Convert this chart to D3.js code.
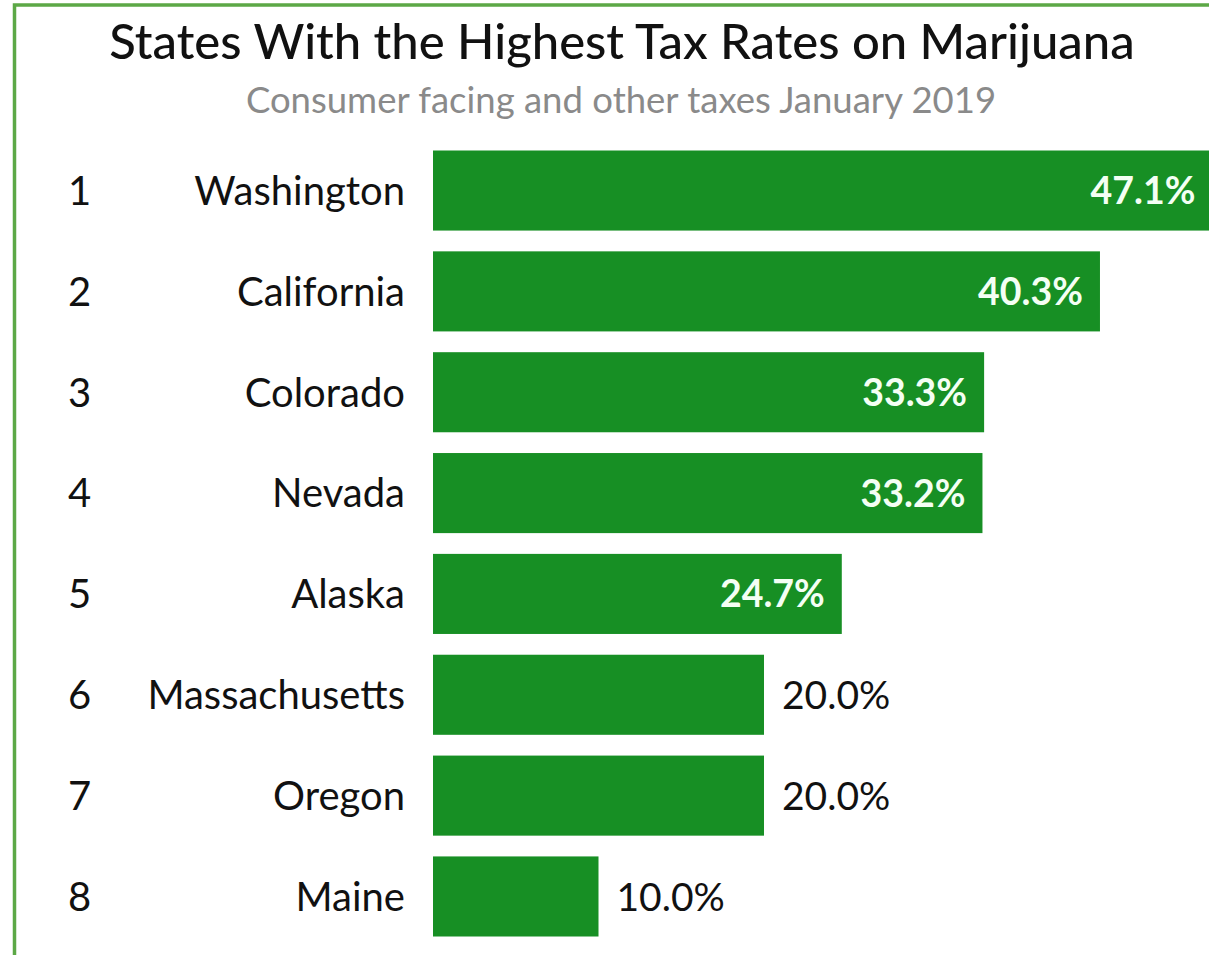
<!DOCTYPE html>
<html>
<head>
<meta charset="utf-8">
<script src="https://cdn.jsdelivr.net/npm/d3@7"></script>
<style>
  html, body { margin: 0; padding: 0; background: #fff; overflow: hidden; }
  svg { display: block; font-family: Lato, "Open Sans", sans-serif; }
</style>
</head>
<body>
<svg></svg>
<script>
// chart data
ranks = [1, 2, 3, 4, 5, 6, 7, 8];
states = ["Washington", "California", "Colorado", "Nevada", "Alaska", "Massachusetts", "Oregon", "Maine"];
taxRates = [47.1, 40.3, 33.3, 33.2, 24.7, 20.0, 20.0, 10.0];

title = "States With the Highest Tax Rates on Marijuana";
subtitle = "Consumer facing and other taxes January 2019";

width = 1209;
height = 955;

barColor = "#178f24";
frameColor = "#5ca846";

rows = states.map((s, i) => ({rank: ranks[i], state: s, value: taxRates[i]}));

x = d3.scaleLinear()
    .domain([0, 50])
    .range([433, 433 + 50 * 16.55]);

y = d3.scaleBand()
    .domain(states)
    .range([150.5, 936.5])
    .paddingInner(0.206)
    .paddingOuter(0);

fmt = d3.format(".1f");

function draw() {
  const svg = d3.select("svg")
      .attr("width", width)
      .attr("height", height)
      .attr("viewBox", `0 0 ${width} ${height}`);

  // frame (image is cropped on the right and bottom)
  svg.append("path")
      .attr("d", `M14.5,${height + 5} V5 H${width + 5}`)
      .attr("fill", "none")
      .attr("stroke", frameColor)
      .attr("stroke-width", 3.5);

  svg.append("text")
      .attr("x", 622)
      .attr("y", 59)
      .attr("text-anchor", "middle")
      .style("font-size", "49px")
      .style("font-weight", 500)
      .attr("fill", "#111")
      .text(title);

  svg.append("text")
      .attr("x", 621)
      .attr("y", 113)
      .attr("text-anchor", "middle")
      .style("font-size", "36.5px")
      .attr("fill", "#8a8a8a")
      .text(subtitle);

  const row = svg.append("g")
    .selectAll("g")
    .data(rows)
    .join("g");

  row.append("rect")
      .attr("x", x(0))
      .attr("y", d => y(d.state))
      .attr("width", d => x(d.value) - x(0))
      .attr("height", y.bandwidth())
      .attr("fill", barColor);

  const mid = d => y(d.state) + y.bandwidth() / 2;

  row.append("text")
      .attr("x", 68)
      .attr("y", mid)
      .attr("dy", "0.36em")
      .style("font-size", "40px")
      .attr("fill", "#111")
      .text(d => d.rank);

  row.append("text")
      .attr("x", 405)
      .attr("y", mid)
      .attr("dy", "0.36em")
      .attr("text-anchor", "end")
      .style("font-size", "40px")
      .attr("fill", "#111")
      .text(d => d.state);

  // value labels: inside the bar for wide bars, after it otherwise
  const inside = d => d.value > 22;
  row.append("text")
      .attr("x", d => inside(d) ? x(d.value) - 17 : x(d.value) + 18)
      .attr("y", mid)
      .attr("dy", "0.36em")
      .attr("text-anchor", d => inside(d) ? "end" : "start")
      .style("font-size", d => inside(d) ? "37.5px" : "39px")
      .style("font-weight", d => inside(d) ? 700 : 400)
      .attr("fill", d => inside(d) ? "#f4fff4" : "#111")
      .text(d => fmt(d.value) + "%");
}
draw();
</script>
</body>
</html>
